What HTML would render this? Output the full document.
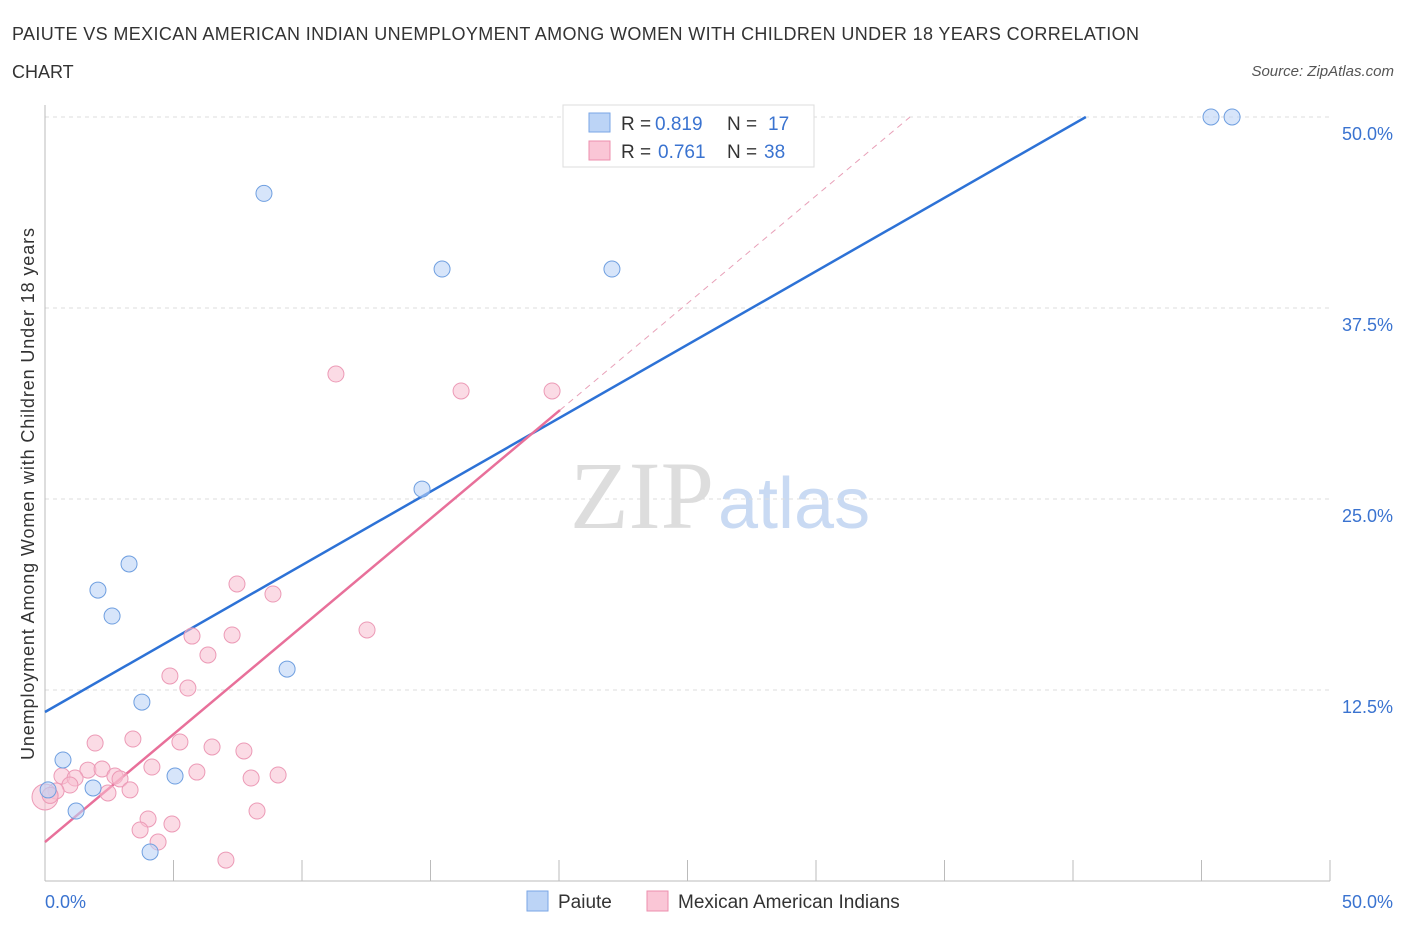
<!DOCTYPE html>
<html><head><meta charset="utf-8"><style>
body{margin:0;background:#fff;font-family:"Liberation Sans",sans-serif;}
svg text{font-family:"Liberation Sans",sans-serif;}
</style></head><body>
<svg width="1406" height="930" xmlns="http://www.w3.org/2000/svg">
<text x="12" y="40" font-size="18" textLength="1127" fill="#333">PAIUTE VS MEXICAN AMERICAN INDIAN UNEMPLOYMENT AMONG WOMEN WITH CHILDREN UNDER 18 YEARS CORRELATION</text>
<text x="12" y="78" font-size="18" fill="#333">CHART</text>
<text x="1394" y="76" font-size="15" font-style="italic" fill="#555" text-anchor="end">Source: ZipAtlas.com</text>
<text x="714" y="528" font-size="96" fill="#ddd" text-anchor="end" style="font-family:'Liberation Serif',serif">ZIP</text>
<text x="718" y="528" font-size="72" fill="#c9daf3">atlas</text>
<g id="grid"></g>
<g id="axes"></g>
<g id="lines"></g>
<g id="pts"></g>
<text transform="translate(34,494) rotate(-90)" font-size="18" textLength="532" fill="#333" text-anchor="middle">Unemployment Among Women with Children Under 18 years</text>
<g>
<rect x="563" y="105" width="251" height="62" fill="#fff" stroke="#ddd"/>
<rect x="589" y="113" width="21" height="19" fill="#bcd4f6" stroke="#7aa6e6"/>
<rect x="589" y="141" width="21" height="19" fill="#fac6d6" stroke="#ec8fae"/>
<text x="621" y="130" font-size="19" fill="#333">R =</text>
<text x="655" y="130" font-size="19" fill="#3a73d0">0.819</text>
<text x="727" y="130" font-size="19" fill="#333">N =</text>
<text x="768" y="130" font-size="19" fill="#3a73d0">17</text>
<text x="621" y="158" font-size="19" fill="#333">R =</text>
<text x="658" y="158" font-size="19" fill="#3a73d0">0.761</text>
<text x="727" y="158" font-size="19" fill="#333">N =</text>
<text x="764" y="158" font-size="19" fill="#3a73d0">38</text>
</g>
<g>
<rect x="527" y="891" width="21" height="20" fill="#bcd4f6" stroke="#7aa6e6"/>
<text x="558" y="908" font-size="19" fill="#333">Paiute</text>
<rect x="647" y="891" width="21" height="20" fill="#fac6d6" stroke="#ec8fae"/>
<text x="678" y="908" font-size="19" fill="#333">Mexican American Indians</text>
</g>
</svg>
<script>
const yTicks=[12.5,25,37.5,50];
const yTickLabels=["12.5%","25.0%","37.5%","50.0%"];
const xTicks=[0,5,10,15,20,25,30,35,40,45,50];
const paiuteX=[8.52,15.45,22.06,45.37,46.19,14.67,3.27,2.06,2.61,9.42,3.77,0.70,5.06,1.87,0.12,1.21,4.09];
const paiuteY=[45.0,40.05,40.05,50,50,25.65,20.75,19.04,17.34,13.87,11.71,7.92,6.87,6.09,5.96,4.58,1.90];
const mexX=[11.32,16.19,19.73,7.47,8.87,12.53,5.72,7.28,6.34,4.86,5.56,1.95,3.42,5.25,6.50,7.74,4.16,5.91,1.67,2.22,0.66,1.17,2.72,2.92,8.02,9.07,3.31,2.45,0.97,0.43,0,4.01,4.94,3.70,4.40,8.25,7.04,0.2];
const mexY=[33.18,32.07,32.07,19.44,18.78,16.43,16.03,16.10,14.79,13.42,12.63,9.03,9.29,9.10,8.77,8.51,7.46,7.13,7.26,7.33,6.87,6.74,6.87,6.68,6.74,6.94,5.96,5.76,6.28,5.89,5.50,4.06,3.73,3.34,2.55,4.58,1.37,5.6];
const blueTrend=[[0,11.06],[40.5,50]];
const pinkTrend=[[0,2.55],[20.04,30.82]];
const pinkDash=[[20.04,30.82],[33.66,50]];
const NS="http://www.w3.org/2000/svg";
const X=v=>45+v*25.7, Y=v=>881-v*15.28;
function mk(t,a,p){const e=document.createElementNS(NS,t);for(const k in a)e.setAttribute(k,a[k]);document.getElementById(p).appendChild(e);return e;}
yTicks.forEach((t,i)=>{
 const g=mk('line',{x1:45,x2:1330,y1:Y(t),y2:Y(t),stroke:'#ddd','stroke-dasharray':'4 4'},'grid');
 
 
 const l=mk('text',{x:1393,y:Y(t)+23,'font-size':18,fill:'#3a73d0','text-anchor':'end'},'axes');
 l.textContent=yTickLabels[i];
 
 
});
const ax=mk('line',{x1:45,x2:1330,y1:881,y2:881,stroke:'#bbb'},'axes');


const ay=mk('line',{x1:45,x2:45,y1:105,y2:881,stroke:'#bbb'},'axes');


xTicks.forEach(t=>{
 const e=mk('line',{x1:X(t),x2:X(t),y1:881,y2:(t==0?881:860),stroke:'#bbb'},'axes');
 
 
});
const xl0=mk('text',{x:45,y:908,'font-size':18,fill:'#3a73d0'},'axes');xl0.textContent='0.0%';


const xl1=mk('text',{x:1393,y:908,'font-size':18,fill:'#3a73d0','text-anchor':'end'},'axes');xl1.textContent='50.0%';


function line(p,attrs,name){const e=mk('line',Object.assign({x1:X(p[0][0]),y1:Y(p[0][1]),x2:X(p[1][0]),y2:Y(p[1][1])},attrs),'lines');
 
 }
line(pinkDash,{stroke:'#e8a0b8','stroke-width':1,'stroke-dasharray':'6 5'},'mexican-trend-extension');
line(blueTrend,{stroke:'#2d72d6','stroke-width':2.5},'paiute-trend-line');
line(pinkTrend,{stroke:'#e8709a','stroke-width':2.5},'mexican-trend-line');
mexX.forEach((x,i)=>{
 const c=mk('circle',{cx:X(x),cy:Y(mexY[i]),r:(x===0?13:8),fill:'rgba(248,190,208,0.55)',stroke:'#ec9ab6','stroke-width':1},'pts');
 
 
});
paiuteX.forEach((x,i)=>{
 const c=mk('circle',{cx:X(x),cy:Y(paiuteY[i]),r:8,fill:'rgba(188,212,246,0.6)',stroke:'#6f9fe0','stroke-width':1},'pts');
 
 
});
</script>
</body></html>
